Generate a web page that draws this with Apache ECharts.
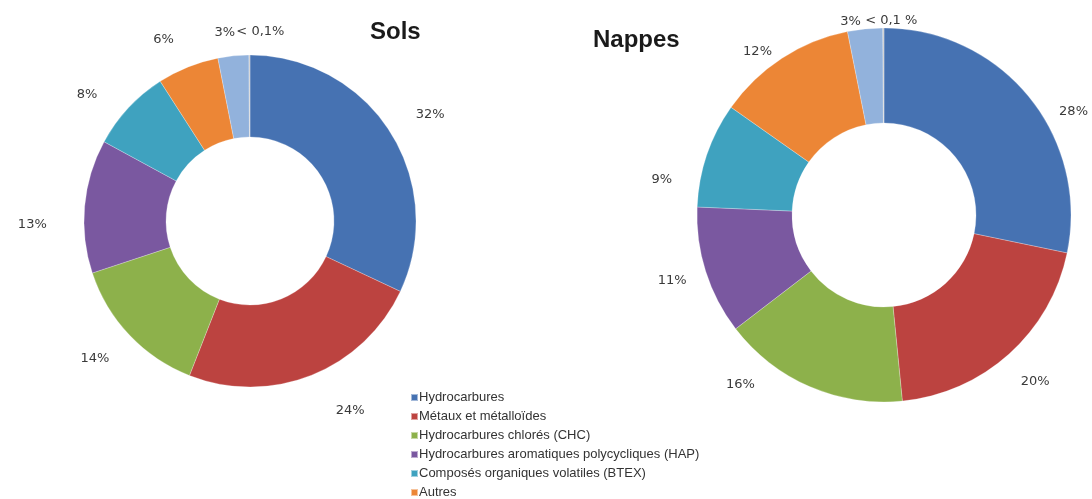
<!DOCTYPE html>
<html><head><meta charset="utf-8">
<script src="https://cdn.jsdelivr.net/npm/echarts@6/dist/echarts.min.js"></script>
<style>html,body{margin:0;padding:0;background:#fff}#c{width:1092px;height:499px}</style>
</head><body><div id="c"></div>
<script>
var categories = ["Hydrocarbures","Métaux et métalloïdes","Hydrocarbures chlorés (CHC)","Hydrocarbures aromatiques polycycliques (HAP)","Composés organiques volatiles (BTEX)","Autres","Autres polluants","Traces"];
var legendNames = categories.slice(0,6);
var solsValues = [32,24,14,13,8,6,3,0.1];
var solsLabels = ["32%","24%","14%","13%","8%","6%","3%","< 0,1%"];
var nappesValues = [28,20,16,11,9,12,3,0.1];
var nappesLabels = ["28%","20%","16%","11%","9%","12%","3%","< 0,1 %"];
var colors = ["#4672B2","#BC4340","#8DB14B","#7A58A0","#3FA2BF","#EC8636","#92B2DC","#C9C9C9"];
// label nudges (layout only)
var solsNudge = [[-4,-5],[5,15],[7,8],[-5,20],[-4,2],[5,-7],[15,-1],[46,-1]];
var nappesNudge = [[2,29],[-14,11],[-35,-22],[13,3],[-3,32],[13,12],[9,15],[45,15]];

function mk(vals, labs){
  return vals.map(function(v,i){return {name:categories[i], value:v, lab:labs[i], itemStyle:{color:colors[i]}};});
}
function layoutFn(nudge){
  return function(p){ var n = nudge[p.dataIndex]; return {dx:n[0], dy:n[1], hideOverlap:false, moveOverlap:null}; };
}
var chart = echarts.init(document.getElementById('c'));
var labelCfg = {show:true, position:'outside', color:'#3a3a3a', fontFamily:'DejaVu Sans, sans-serif', fontSize:13,
  formatter:function(p){return p.data.lab;}};
var titleStyle = {fontFamily:'Liberation Sans, Arial, sans-serif', fontWeight:'bold', fontSize:24, color:'#1a1a1a'};
chart.setOption({
  animation:false,
  title:[
    {text:'Sols', left:365, top:15, textStyle:titleStyle},
    {text:'Nappes', left:588, top:23, textStyle:titleStyle}
  ],
  legend:{data:legendNames, orient:'vertical', left:405, top:386, height:300, itemWidth:7, itemHeight:7, itemGap:6, icon:'rect',
    textStyle:{fontFamily:'Liberation Sans, Arial, sans-serif', fontSize:13, color:'#333', padding:[0,0,0,-4]}, selectedMode:false},
  series:[
    {type:'pie', center:[250,221], radius:[84,166], startAngle:90, avoidLabelOverlap:false, minShowLabelAngle:0,
     itemStyle:{borderColor:'rgba(255,255,255,0.5)', borderWidth:0.5},
     label:labelCfg, labelLine:{show:false, length:22, length2:6}, labelLayout:layoutFn(solsNudge), data:mk(solsValues, solsLabels)},
    {type:'pie', center:[884,215], radius:[92,187], startAngle:90, avoidLabelOverlap:false, minShowLabelAngle:0,
     itemStyle:{borderColor:'rgba(255,255,255,0.5)', borderWidth:0.5},
     label:labelCfg, labelLine:{show:false, length:22, length2:6}, labelLayout:layoutFn(nappesNudge), data:mk(nappesValues, nappesLabels)}
  ]
});
</script></body></html>
